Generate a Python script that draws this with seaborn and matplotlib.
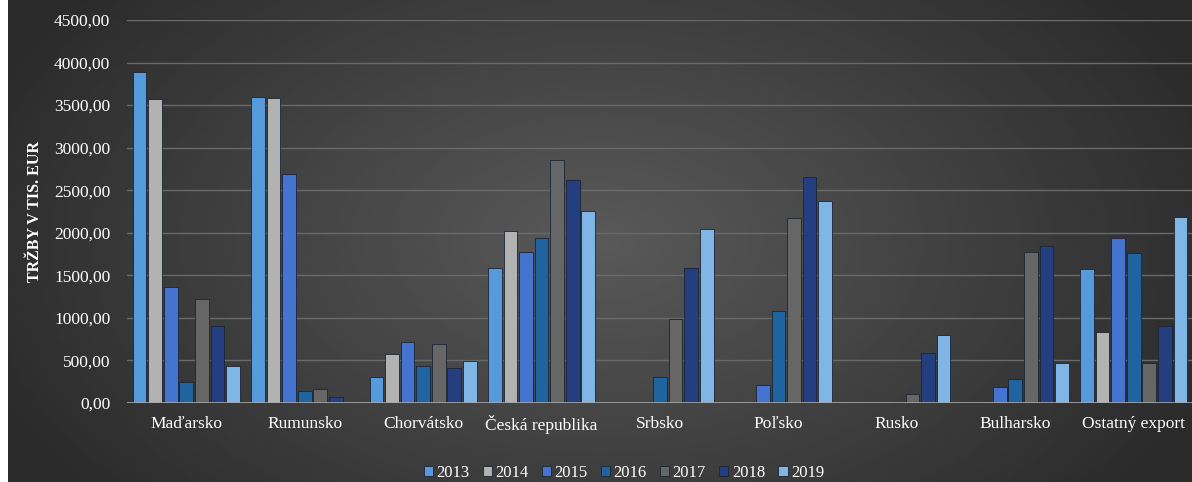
import numpy as np
import pandas as pd
import matplotlib
matplotlib.use("Agg")
import matplotlib.pyplot as plt
from matplotlib.ticker import FuncFormatter, MultipleLocator
import seaborn as sns

# data (tis. EUR)
countries = ["Maďarsko", "Rumunsko", "Chorvátsko", "Česká republika", "Srbsko",
             "Poľsko", "Rusko", "Bulharsko", "Ostatný export"]
years = ["2013", "2014", "2015", "2016", "2017", "2018", "2019"]

v2013 = [3885, 3590, 310, 1590, 0, 0, 0, 0, 1580]
v2014 = [3570, 3580, 580, 2025, 0, 0, 0, 0, 840]
v2015 = [1365, 2690, 720, 1770, 0, 215, 0, 190, 1935]
v2016 = [250, 140, 440, 1935, 310, 1085, 15, 285, 1760]
v2017 = [1220, 170, 690, 2850, 990, 2170, 110, 1780, 470]
v2018 = [910, 75, 410, 2620, 1590, 2660, 590, 1850, 900]
v2019 = [440, 0, 490, 2260, 2040, 2375, 800, 470, 2180]

colors = ["#559BDC", "#B2B2B2", "#4474D0", "#1F64A0", "#666666", "#233F80", "#80B6E6"]

values = [v2013, v2014, v2015, v2016, v2017, v2018, v2019]
df = pd.DataFrame({
    "krajina": countries * len(years),
    "rok": np.repeat(years, len(countries)),
    "trzby": np.concatenate(values),
})

sns.set_style("dark")
plt.rcParams["font.family"] = ["Liberation Serif", "DejaVu Serif"]

fig = plt.figure(figsize=(11.92, 4.82), dpi=100)
fig.patch.set_facecolor("white")

# dark gradient background (lighter in the middle)
bg = fig.add_axes([8 / 1192, 0, 1 - 8 / 1192, 1], zorder=-5)
xx, yy = np.meshgrid(np.linspace(-1, 1, 400), np.linspace(-1, 1, 200))
r = np.sqrt((xx * 0.9) ** 2 + (yy * 0.6) ** 2)
shade = 0.35 - 0.18 * np.clip(r, 0, 1)
bg.imshow(shade, cmap="gray", vmin=0, vmax=1, aspect="auto", extent=[0, 1, 0, 1])
bg.set_axis_off()

ax = fig.add_axes([127 / 1192, 1 - 403 / 482, 1066 / 1192, 383 / 482])
ax.set_facecolor("none")

sns.barplot(data=df, x="krajina", y="trzby", hue="rok", palette=colors,
            saturation=1, width=0.92, gap=0.12, ax=ax, edgecolor="#1c2533",
            linewidth=0.6, legend=True)

ax.set_ylim(0, 4500)
ax.set_xlim(-0.5, 8.5)
ax.yaxis.set_major_locator(MultipleLocator(500))
ax.yaxis.set_major_formatter(FuncFormatter(lambda v, p: f"{v:.2f}".replace(".", ",")))
ax.grid(axis="y", color="#6a6a6a", linewidth=1)
ax.grid(axis="x", visible=False)
ax.set_axisbelow(True)
for s in ax.spines.values():
    s.set_visible(False)
ax.axhline(0, color="#a6a6a6", linewidth=1.2, zorder=3)

ax.tick_params(axis="both", length=0, colors="white", labelsize=12.5)
ax.tick_params(axis="x", pad=9)
ax.tick_params(axis="y", pad=12)
ax.set_xlabel("")
ax.set_ylabel("TRŽBY V TIS. EUR", color="white", fontsize=11.5, fontweight="bold",
              labelpad=8)

handles, labels = ax.get_legend_handles_labels()
ax.legend_.remove()
fig.legend(handles, labels, loc="center", bbox_to_anchor=(624 / 1192, 1 - 473 / 482),
           ncol=7, frameon=False, fontsize=12, labelcolor="white",
           handlelength=0.55, handleheight=0.55, handletextpad=0.2, columnspacing=0.8)

fig.savefig("out.png", dpi=100)
